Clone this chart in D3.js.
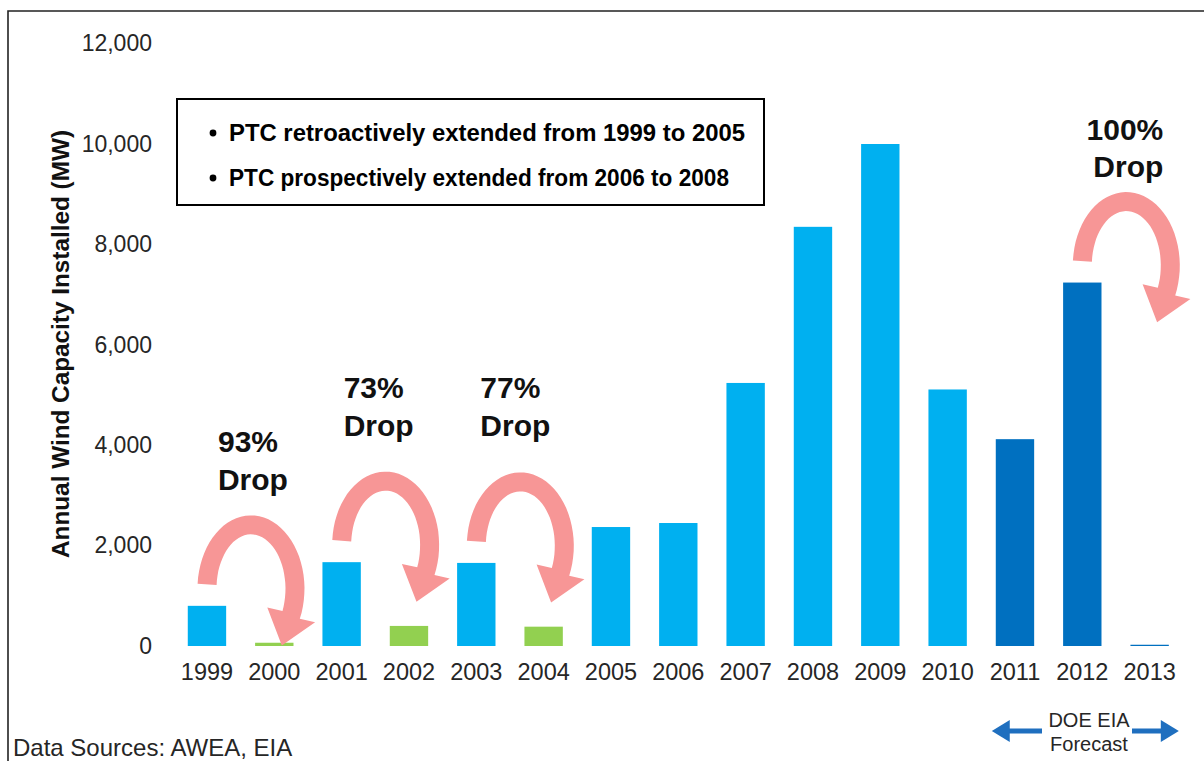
<!DOCTYPE html>
<html>
<head>
<meta charset="utf-8">
<script src="https://cdn.jsdelivr.net/npm/d3@7"></script>
<style>
  body { margin: 0; background: #fff; }
  svg { display: block; font-family: Arial, "Liberation Sans", sans-serif; }
</style>
</head>
<body>
<svg id="chart" width="1204" height="761"></svg>
<script>
// DATA
const years = ["1999", "2000", "2001", "2002", "2003", "2004", "2005", "2006",
    "2007", "2008", "2009", "2010", "2011", "2012", "2013"];
const capacity = [800, 65, 1670, 400, 1655, 385, 2370, 2450,
    5240, 8350, 10000, 5110, 4120, 7240, 25];
const barType = ["ptc", "lapse", "ptc", "lapse", "ptc", "lapse", "ptc", "ptc",
    "ptc", "ptc", "ptc", "ptc", "forecast", "forecast", "forecast"];
const yTicks = [0, 2000, 4000, 6000, 8000, 10000, 12000];
const dropFrom = ["1999", "2001", "2003", "2012"];
const dropLabels = ["93%", "73%", "77%", "100%"];
const boxLines = ["PTC retroactively extended from 1999 to 2005",
    "PTC prospectively extended from 2006 to 2008"];

const colors = { ptc: "#00b0f0", lapse: "#92d050", forecast: "#0070c0" };
const pink = "#f79696";

const svg = d3.select("#chart");
const data = years.map((y, i) => ({ year: y, value: capacity[i], type: barType[i] }));
const valueOf = {};
data.forEach(d => valueOf[d.year] = d.value);

// frame
svg.append("path")
    .attr("d", "M8,761 V11 H1204")
    .attr("fill", "none")
    .attr("stroke", "#222")
    .attr("stroke-width", 1.6);

const x = d3.scaleBand()
    .domain(years)
    .range([173.3, 1183.3])
    .paddingInner(0.43)
    .paddingOuter(0.215);

const y = d3.scaleLinear()
    .domain([0, 12000])
    .range([646, 43.6]);

// y axis (labels only)
const yAxis = svg.append("g")
    .attr("transform", "translate(160,0)")
    .call(d3.axisLeft(y).tickValues(yTicks).tickSize(0).tickPadding(8).tickFormat(d3.format(",")));
yAxis.select(".domain").remove();
yAxis.selectAll("text")
    .attr("font-size", 23)
    .attr("font-family", "Arial, 'Liberation Sans', sans-serif")
    .attr("fill", "#262626");

// x axis
const xAxis = svg.append("g")
    .attr("transform", "translate(0,646)")
    .call(d3.axisBottom(x).tickSize(0).tickPadding(17));
xAxis.select(".domain").remove();
xAxis.selectAll("text")
    .attr("font-size", 23.5)
    .attr("font-family", "Arial, 'Liberation Sans', sans-serif")
    .attr("fill", "#262626");

// bars
svg.selectAll("rect.bar").data(data)
    .join("rect")
    .attr("class", "bar")
    .attr("x", d => x(d.year))
    .attr("y", d => y(d.value))
    .attr("width", x.bandwidth())
    .attr("height", d => y(0) - y(d.value))
    .attr("fill", d => colors[d.type]);

// y title
svg.append("text")
    .attr("transform", "translate(69,344) rotate(-90)")
    .attr("text-anchor", "middle")
    .attr("font-size", 23)
    .attr("font-weight", "bold")
    .attr("fill", "#111")
    .attr("textLength", 428)
    .attr("lengthAdjust", "spacingAndGlyphs")
    .text("Annual Wind Capacity Installed (MW)");

// curved drop arrows
function arrowPath(cx, cy, rx, ry, t, a0, a1, hw, hl) {
    const pts = [];
    const n = 40;
    const rad = a => a * Math.PI / 180;
    for (let i = 0; i <= n; i++) {
        const a = rad(a0 + (a1 - a0) * i / n);
        pts.push([cx + (rx + t / 2) * Math.cos(a), cy + (ry + t / 2) * Math.sin(a)]);
    }
    const e = rad(a1);
    const P = [cx + rx * Math.cos(e), cy + ry * Math.sin(e)];
    let tx = -rx * Math.sin(e), ty = ry * Math.cos(e);
    const tl = Math.hypot(tx, ty); tx /= tl; ty /= tl;
    const nx = ty, ny = -tx; // outward normal
    pts.push([P[0] + nx * hw, P[1] + ny * hw]);
    pts.push([P[0] + tx * hl, P[1] + ty * hl]);
    pts.push([P[0] - nx * hw, P[1] - ny * hw]);
    for (let i = n; i >= 0; i--) {
        const a = rad(a0 + (a1 - a0) * i / n);
        pts.push([cx + (rx - t / 2) * Math.cos(a), cy + (ry - t / 2) * Math.sin(a)]);
    }
    return "M" + pts.map(p => p[0].toFixed(1) + "," + p[1].toFixed(1)).join("L") + "Z";
}

const labelPos = [
    { dx: 11, y1: 452, y2: 490, anchor: "start" },
    { dx: 2, y1: 398, y2: 436, anchor: "start" },
    { dx: 4, y1: 398, y2: 436, anchor: "start" },
    { dx: 81, y1: 140, y2: 177, anchor: "end" }
];

dropFrom.forEach((yr, i) => {
    const left = x(yr) + x.bandwidth() / 2;
    const rx = 44, ry = 64;
    const cy = y(valueOf[yr]) - 17;
    svg.append("path")
        .attr("d", arrowPath(left + rx, cy, rx, ry, 19, 184, 384, 25, 32))
        .attr("fill", pink);

    const lp = labelPos[i];
    const g = svg.append("g")
        .attr("font-size", 30)
        .attr("font-weight", "bold")
        .attr("fill", "#111")
        .attr("text-anchor", lp.anchor);
    g.append("text").attr("x", left + lp.dx).attr("y", lp.y1).text(dropLabels[i]);
    g.append("text").attr("x", left + lp.dx).attr("y", lp.y2).text("Drop");
});

// PTC box
svg.append("rect")
    .attr("x", 177).attr("y", 99)
    .attr("width", 587).attr("height", 106)
    .attr("fill", "#fff")
    .attr("stroke", "#000")
    .attr("stroke-width", 2);

boxLines.forEach((line, i) => {
    const by = 141 + i * 45;
    svg.append("circle")
        .attr("cx", 213).attr("cy", by - 8).attr("r", 3.4)
        .attr("fill", "#000");
    svg.append("text")
        .attr("x", 229).attr("y", by)
        .attr("font-size", 23)
        .attr("font-weight", "bold")
        .attr("fill", "#000")
        .attr("textLength", i === 0 ? 516 : 500)
        .attr("lengthAdjust", "spacingAndGlyphs")
        .text(line);
});

// forecast note
const fx0 = x("2011") - 4;
const fx1 = x("2013") + x.bandwidth() + 10;
const fy = 731;
const blue = "#1f6fbf";
svg.append("line")
    .attr("x1", fx0 + 10).attr("x2", 1042).attr("y1", fy).attr("y2", fy)
    .attr("stroke", blue).attr("stroke-width", 5);
svg.append("path")
    .attr("d", `M${fx0},${fy} L${fx0 + 18},${fy - 11} L${fx0 + 18},${fy + 11} Z`)
    .attr("fill", blue);
svg.append("line")
    .attr("x1", 1132).attr("x2", fx1 - 10).attr("y1", fy).attr("y2", fy)
    .attr("stroke", blue).attr("stroke-width", 5);
svg.append("path")
    .attr("d", `M${fx1},${fy} L${fx1 - 18},${fy - 11} L${fx1 - 18},${fy + 11} Z`)
    .attr("fill", blue);

svg.append("text")
    .attr("x", 1089).attr("y", 727)
    .attr("text-anchor", "middle")
    .attr("font-size", 20)
    .attr("fill", "#262626")
    .text("DOE EIA");
svg.append("text")
    .attr("x", 1089).attr("y", 751)
    .attr("text-anchor", "middle")
    .attr("font-size", 20)
    .attr("fill", "#262626")
    .text("Forecast");

// source
svg.append("text")
    .attr("x", 13).attr("y", 756)
    .attr("font-size", 24)
    .attr("fill", "#262626")
    .text("Data Sources: AWEA, EIA");
</script>
</body>
</html>
